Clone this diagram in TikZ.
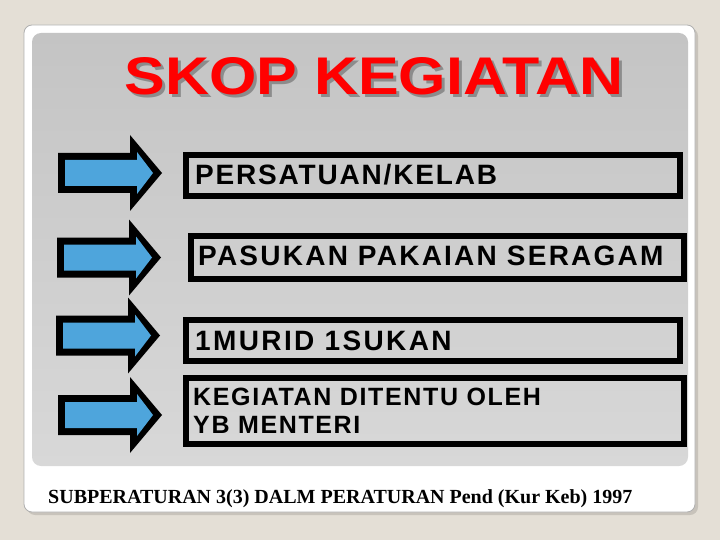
\documentclass[tikz,border=0pt]{standalone}
\usepackage{fontspec}
\setmainfont{Liberation Sans}
\newfontfamily\boxfont{Liberation Sans}[LetterSpace=6.5]
\newfontfamily\footfont{Liberation Serif}
\definecolor{bgbeige}{RGB}{228,223,214}
\definecolor{arrowblue}{RGB}{78,165,220}
\definecolor{titlered}{RGB}{255,0,0}
\definecolor{slidegray}{RGB}{176,176,176}
\definecolor{panetop}{RGB}{196,196,196}
\definecolor{panebot}{RGB}{216,216,216}
\newcommand{\shadowtext}[1]{\makebox[0pt][l]{\hspace{2.5pt}\raisebox{-2.5pt}{\color{black!45}#1}}#1}
\tikzset{
  itembox/.style={draw=black, line width=6pt, rectangle, anchor=north west, inner sep=0pt, outer sep=0pt},
  itemtext/.style={anchor=base west, inner sep=0pt, font=\boxfont\bfseries\fontsize{28}{30}\selectfont},
  smalltext/.style={anchor=base west, inner sep=0pt, font=\boxfont\bfseries\fontsize{25}{28}\selectfont},
  blockarrow/.pic={
    \fill[black] (58,-20) -- (130,-20) -- (130,-38) -- (162,0) -- (130,38) -- (130,20) -- (58,20) -- cycle;
    \fill[arrowblue] (65,-13) -- (137,-13) -- (137,-21) -- (153,0) -- (137,21) -- (137,13) -- (65,13) -- cycle;
  }
}
\begin{document}
\begin{tikzpicture}[x=1pt,y=-1pt]
\useasboundingbox (0,0) rectangle (720,540);
\fill[bgbeige] (0,0) rectangle (720,540);
% slide
\fill[black, opacity=0.12, rounded corners=8pt] (27,28) rectangle (698,515);
\draw[slidegray, line width=0.8pt, fill=white, rounded corners=8pt] (24,25) rectangle (695,512);
\shade[rounded corners=9pt, top color=panetop, bottom color=panebot] (32,33) rectangle (688,466);
% title
\node[anchor=base, inner sep=0pt, text=titlered, font=\bfseries\fontsize{53}{60}\selectfont] (title) at (374,95) {\scalebox{1.15}[1]{\shadowtext{SKOP KEGIATAN}}};
% arrows
\pic (arrowA) at (0,173) {blockarrow};
\pic (arrowB) at (-1,257.5) {blockarrow};
\pic (arrowC) at (-2,335.5) {blockarrow};
\pic (arrowD) at (0,415) {blockarrow};
% boxes
\node[itembox, minimum width=494pt, minimum height=41pt] (boxA) at (186,155) {};
\node[itembox, minimum width=493pt, minimum height=43pt] (boxB) at (191,236) {};
\node[itembox, minimum width=494pt, minimum height=41pt] (boxC) at (186,320) {};
\node[itembox, minimum width=498pt, minimum height=66pt] (boxD) at (186,378) {};
% texts
\node[itemtext] (textA) at (195,185) {PERSATUAN/KELAB};
\node[itemtext] (textB) at (198,265) {\addfontfeature{LetterSpace=8}PASUKAN PAKAIAN SERAGAM};
\node[itemtext] (textC) at (195,350) {\addfontfeature{LetterSpace=8.5}1MURID 1SUKAN};
\node[smalltext] (textD1) at (193,405) {KEGIATAN DITENTU OLEH};
\node[smalltext] (textD2) at (193,433) {YB MENTERI};
% footer
\node[anchor=base west, inner sep=0pt, font=\footfont\bfseries\fontsize{20}{22}\selectfont] (footer) at (48,503) {SUBPERATURAN 3(3) DALM PERATURAN Pend (Kur Keb) 1997};
\end{tikzpicture}
\end{document}
